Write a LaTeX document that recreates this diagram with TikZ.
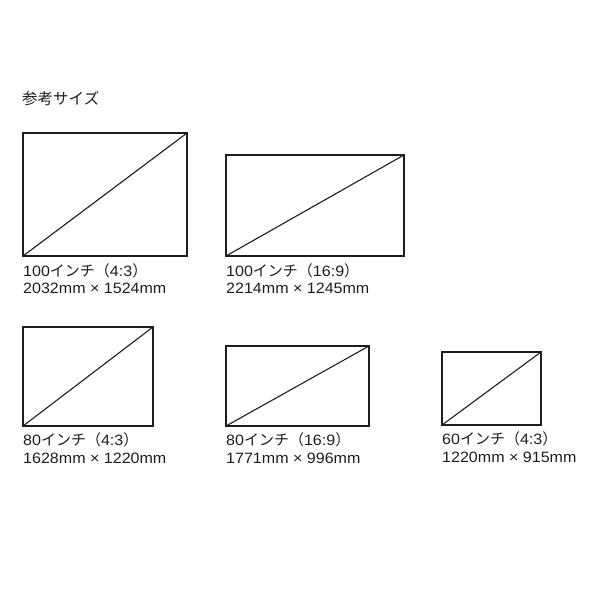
\documentclass[tikz,border=0pt]{standalone}
\usepackage{fontspec}
\setmainfont{Liberation Sans}[FakeStretch=1.07]
\newfontfamily\jp{Noto Sans CJK JP}
\usetikzlibrary{calc}
\definecolor{ink}{HTML}{1E1E1E}
\tikzset{
  screen/.style={draw=ink, line width=1.3pt, inner sep=0pt, outer sep=0pt, anchor=north west},
  diag/.style={draw=ink, line width=1.1pt},
  lbl/.style={anchor=base west, inner sep=0pt, text=ink, font=\fontsize{15}{17}\selectfont},
  ttl/.style={anchor=base west, inner sep=0pt, text=ink, font=\jp\fontsize{15.5}{17}\selectfont}
}
\begin{document}
\begin{tikzpicture}[x=1pt,y=-1pt]
\useasboundingbox[fill=white] (0,0) rectangle (600,600);
\node[ttl] (title) at (22,104.5) {参考サイズ};

\node[screen, minimum width=164pt, minimum height=123pt] (r1) at (23,133) {};
\node[screen, minimum width=178pt, minimum height=101pt] (r2) at (226,155) {};
\node[screen, minimum width=130pt, minimum height=99pt] (r3) at (23,327) {};
\node[screen, minimum width=143pt, minimum height=80pt] (r4) at (226,346) {};
\node[screen, minimum width=99pt, minimum height=73pt] (r5) at (442,352) {};

\foreach \r in {r1,r2,r3,r4,r5}{
  \draw[diag] (\r.south west) -- (\r.north east);
}

\node[lbl] (a1) at ($(r1.south west)+(0,20)$) {100{\jp インチ（}4:3{\jp ）}};
\node[lbl] (b1) at ($(r1.south west)+(0,37)$) {2032mm × 1524mm};
\node[lbl] (a2) at ($(r2.south west)+(0,20)$) {100{\jp インチ（}16:9{\jp ）}};
\node[lbl] (b2) at ($(r2.south west)+(0,37)$) {2214mm × 1245mm};
\node[lbl] (a3) at ($(r3.south west)+(0,19.5)$) {80{\jp インチ（}4:3{\jp ）}};
\node[lbl] (b3) at ($(r3.south west)+(0,37.5)$) {1628mm × 1220mm};
\node[lbl] (a4) at ($(r4.south west)+(0,19.5)$) {80{\jp インチ（}16:9{\jp ）}};
\node[lbl] (b4) at ($(r4.south west)+(0,37.5)$) {1771mm × 996mm};
\node[lbl] (a5) at ($(r5.south west)+(0,19.5)$) {60{\jp インチ（}4:3{\jp ）}};
\node[lbl] (b5) at ($(r5.south west)+(0,37.5)$) {1220mm × 915mm};
\end{tikzpicture}
\end{document}
